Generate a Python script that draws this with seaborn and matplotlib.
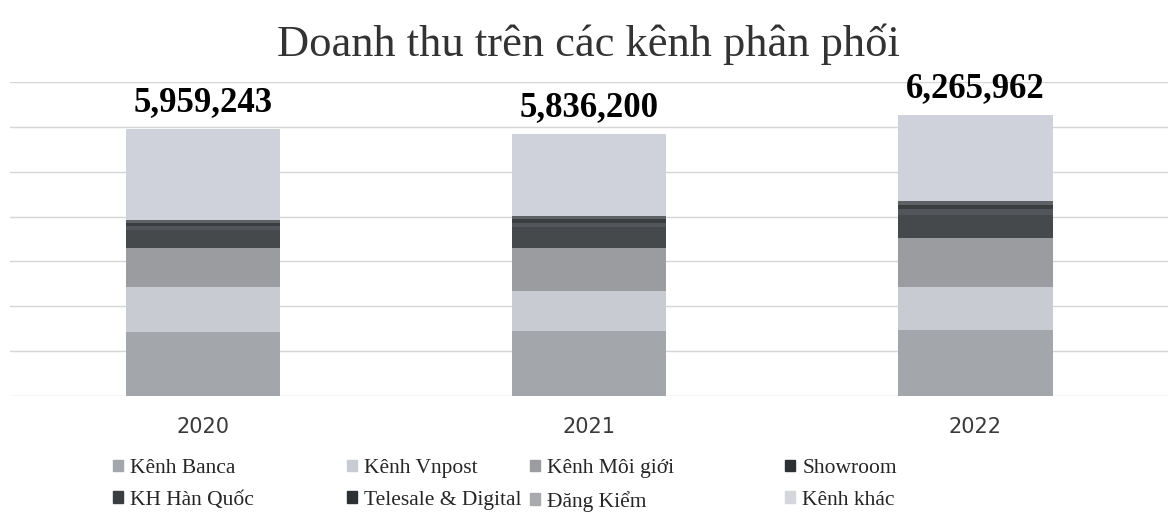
import numpy as np
import pandas as pd
import matplotlib
matplotlib.use("Agg")
import matplotlib.pyplot as plt
import seaborn as sns

# data (revenue per distribution channel)
years = ["2020", "2021", "2022"]
totals = [5959243, 5836200, 6265962]
channels = ["Kênh Banca", "Kênh Vnpost", "Kênh Môi giới", "Showroom",
            "KH Hàn Quốc", "Telesale & Digital", "Đăng Kiểm", "Kênh khác"]
banca = [1420000, 1440000, 1470000]
vnpost = [1000000, 890000, 960000]
moigioi = [890000, 980000, 1090000]
showroom = [400000, 450000, 520000]
kh_hq = [80000, 100000, 120000]
telesale = [60000, 80000, 90000]
dangkiem = [80000, 80000, 90000]
khac = [totals[i] - (banca[i] + vnpost[i] + moigioi[i] + showroom[i] + kh_hq[i] + telesale[i] + dangkiem[i])
        for i in range(3)]
colors = ["#a3a6ab", "#c8cbd2", "#9a9c9f", "#45494c",
          "#52565a", "#3b3e41", "#5e6265", "#cfd2da"]
legend_colors = ["#a3a6ab", "#c8cbd2", "#9a9c9f", "#2e3133",
                 "#3b3e41", "#2e3133", "#a8aaad", "#d4d6dc"]

series = [banca, vnpost, moigioi, showroom, kh_hq, telesale, dangkiem, khac]
df = pd.DataFrame(dict(zip(channels, series)), index=years)
cum = df.cumsum(axis=1)

sns.set_style("white")
fig, ax = plt.subplots(figsize=(11.76, 5.31), dpi=100)
fig.subplots_adjust(left=0.0085, right=0.9935, top=0.8456, bottom=0.2542)

# stacked bars: draw cumulative heights from the top layer down
for name, col in reversed(list(zip(channels, colors))):
    sns.barplot(x=years, y=cum[name].values, color=col, width=0.4,
                ax=ax, zorder=2, saturation=1, linewidth=0)

ax.set_ylim(0, 7000000)
ax.set_yticks(np.arange(0, 7000001, 1000000))
ax.yaxis.grid(True, color="#d6d6d6", linewidth=1, zorder=0)
ax.set_yticklabels([])
ax.tick_params(axis="y", length=0)
ax.tick_params(axis="x", length=0, labelsize=15, pad=15, labelcolor="#3a3a3a")
for s in ax.spines.values():
    s.set_visible(False)
ax.set_xlabel("")
ax.set_ylabel("")

for i, t in enumerate(totals):
    ax.text(i, t + 220000, f"{t:,}", ha="center", va="bottom",
            fontsize=25, fontweight="bold", family="Liberation Serif", color="black")

fig.text(0.5, 0.917, "Doanh thu trên các kênh phân phối", ha="center", va="center",
         fontsize=32, family="Liberation Serif", color="#333333")

# legend: 4 columns, 2 rows, placed per column
col_x = [113, 347, 530, 785]
for c in range(4):
    idx = [c, c + 4]
    hs = [plt.Rectangle((0, 0), 1, 1, color=legend_colors[k]) for k in idx]
    fig.legend(hs, [channels[k] for k in idx], loc="upper left",
               bbox_to_anchor=(col_x[c] / 1176, 1 - 459 / 531),
               frameon=False, prop={"family": "Liberation Serif", "size": 15.5},
               handlelength=0.45, handleheight=0.45, handletextpad=0.35,
               labelspacing=0.6, borderpad=0, borderaxespad=0)

plt.savefig("out.png", dpi=100)
